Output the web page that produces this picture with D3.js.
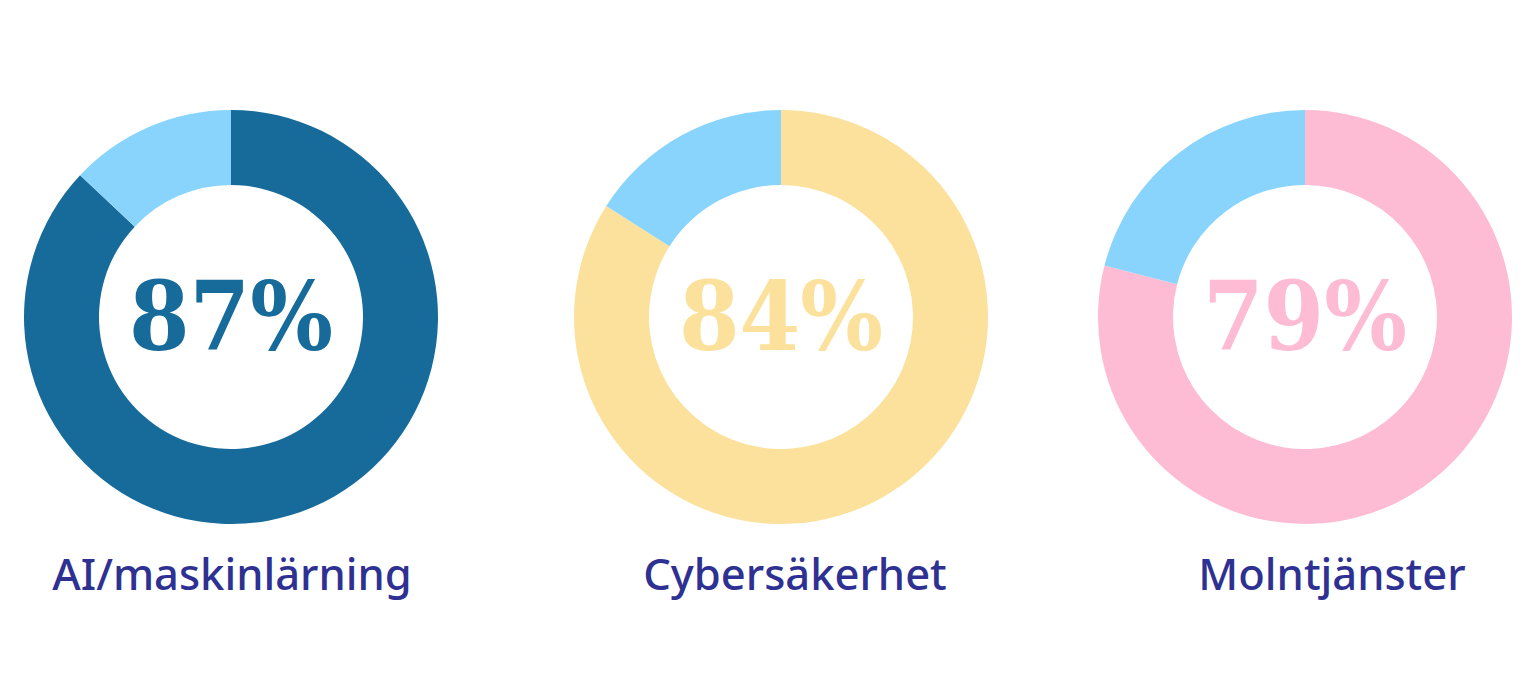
<!DOCTYPE html>
<html><head><meta charset="utf-8">
<script src="https://cdn.jsdelivr.net/npm/d3@7"></script>
<style>html,body{margin:0;padding:0;background:#fff;}</style>
</head><body>
<svg id="chart" width="1539" height="700"></svg>
<script>
const categories = ["AI/maskinlärning", "Cybersäkerhet", "Molntjänster"];
const values = [87, 84, 79];
const mainColors = ["#176b9b", "#fce19c", "#fdbcd4"];
const restColor = "#89d4fd";
const labelColor = "#2e3192";

const svg = d3.select("#chart");
const centersX = d3.scalePoint().domain(categories).range([231, 1305]);
// measured slight label offsets
const labelShift = [1, 14, 27];
const cy = 317, rOuter = 207, rInner = 132;

const pie = d3.pie().sort(null).value(d => d);
const arc = d3.arc().innerRadius(rInner).outerRadius(rOuter);

categories.forEach((cat, i) => {
  const cx = i === 1 ? 781 : centersX(cat);
  const g = svg.append("g").attr("transform", `translate(${cx},${cy})`);
  const arcs = pie([values[i], 100 - values[i]]);
  g.selectAll("path").data(arcs).join("path")
    .attr("d", arc)
    .attr("fill", (d, j) => j === 0 ? mainColors[i] : restColor);
  g.append("text")
    .attr("x", 0).attr("y", 33)
    .attr("text-anchor", "middle")
    .attr("font-family", "DejaVu Serif")
    .attr("font-weight", "bold")
    .attr("font-size", 96)
    .attr("textLength", 204)
    .attr("lengthAdjust", "spacingAndGlyphs")
    .attr("fill", mainColors[i])
    .text(values[i] + "%");
  svg.append("text")
    .attr("x", cx + labelShift[i]).attr("y", 590)
    .attr("text-anchor", "middle")
    .attr("font-family", "Noto Sans")
    .attr("font-weight", 500)
    .attr("font-size", 43.5)
    .attr("fill", labelColor)
    .text(cat);
});
</script>
</body></html>
